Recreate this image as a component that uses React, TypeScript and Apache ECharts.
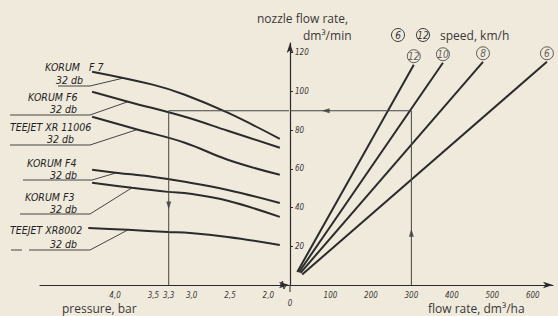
import React, { useEffect, useRef } from "react";
import * as echarts from "echarts";

// ---- data ----
const pressureTicks = [2.0, 2.5, 3.0, 3.3, 3.5, 4.0];
const flowRateTicks = [0, 100, 200, 300, 400, 500, 600];
const nozzleFlowTicks = [20, 40, 60, 80, 100, 120];

// nozzle characteristics: [pressure bar, nozzle flow dm3/min (32 nozzles)]
const korumF7 = [[4.3, 110.2], [3.51, 103.5], [3.09, 98.3], [2.53, 89.0], [1.85, 75.5]];
const korumF6 = [[4.3, 99.8], [3.83, 94.7], [3.09, 86.9], [2.53, 79.7], [1.85, 70.9]];
const teejetXR11006 = [[4.3, 86.9], [3.7, 80.2], [3.09, 73.5], [2.53, 64.7], [1.85, 56.9]];
const korumF4 = [[4.3, 59.5], [3.96, 57.9], [3.52, 55.9], [3.09, 53.3], [2.53, 49.1], [1.85, 42.4]];
const korumF3 = [[4.3, 52.8], [3.78, 50.2], [3.31, 48.1], [3.02, 47.1], [2.53, 43.5], [1.85, 35.2]];
const teejetXR8002 = [[4.35, 29.5], [3.83, 28.5], [3.31, 27.4], [3.02, 26.9], [2.53, 24.8], [1.85, 20.7]];

const nozzleNames = ["KORUM   F 7", "KORUM F6", "TEEJET XR 11006", "KORUM F4", "KORUM F3", "TEEJET XR8002"];
const nozzleCurves = [korumF7, korumF6, teejetXR11006, korumF4, korumF3, teejetXR8002];
const nozzleCount = "32 db";

// speed lines: [flow rate dm3/ha, nozzle flow dm3/min]
const speeds = [12, 10, 8, 6];
const speedStart = [[18, 6.7], [22, 6.6], [26, 6.3], [30, 5.4]];
const speedEnd = [[306, 113.8], [378, 114.8], [477, 115.3], [635, 115.3]];
const legendSpeeds = [6, 12];

// worked example
const examplePressure = 3.3;
const exampleNozzleFlow = 90;
const exampleFlowRate = 300;

// ---- layout (pixels) ----
const INK = "#2b2b2b";
const TXT = "#383838";
const BG = "#f0eadc";
const AXIS_Y = 285;
const TOP = 43;
const labelFont = "'Liberation Sans Narrow', 'DejaVu Sans Condensed', sans-serif";
const titleFont = "'Open Sans', sans-serif";

// label layout per nozzle: name pos, count pos, underline, leader pressure
const labelLayout = [
  { nx: 45, ny: 67, cx: 56, cy: 80, u1: 58, u2: 90, uy: 86, lp: 3.9 },
  { nx: 28, ny: 97, cx: 50, cy: 109, u1: 10, u2: 90, uy: 115, lp: 3.83 },
  { nx: 10, ny: 127, cx: 47, cy: 139, u1: 10, u2: 90, uy: 145, lp: 3.71 },
  { nx: 27, ny: 163, cx: 50, cy: 175, u1: 23, u2: 92, uy: 180, lp: 3.98 },
  { nx: 25, ny: 197, cx: 50, cy: 209, u1: 20, u2: 90, uy: 214, lp: 3.78 },
  { nx: 10, ny: 230, cx: 50, cy: 244, u1: 29, u2: 90, uy: 250, lp: 3.83 },
];

function interp(curve: number[][], p: number): number {
  for (let i = 0; i < curve.length - 1; i++) {
    const a = curve[i], b = curve[i + 1];
    if ((p <= a[0] && p >= b[0]) || (p >= a[0] && p <= b[0])) {
      const t = (p - a[0]) / (b[0] - a[0]);
      return a[1] + t * (b[1] - a[1]);
    }
  }
  return curve[0][1];
}

export default function App() {
  const ref = useRef<HTMLDivElement>(null);
  useEffect(() => {
    if (!ref.current) return;
    const chart = echarts.init(ref.current, undefined, { renderer: "svg" });

    const axisLabelBase = {
      color: TXT,
      fontSize: 8,
      fontStyle: "italic" as const,
      fontFamily: labelFont,
    };

    const nozzleSeries = nozzleCurves.map((c, i) => ({
      type: "line",
      name: nozzleNames[i],
      xAxisIndex: 0,
      yAxisIndex: 0,
      data: c,
      smooth: 0.4,
      symbol: "none",
      lineStyle: { color: INK, width: 2 },
      silent: true,
    }));

    const speedSeries = speeds.map((s, i) => ({
      type: "line",
      name: String(s),
      xAxisIndex: 1,
      yAxisIndex: 1,
      symbol: "none",
      lineStyle: { color: INK, width: 2 },
      data: [speedStart[i], speedEnd[i]],
      silent: true,
    }));

    const speedLabels = {
      type: "scatter",
      xAxisIndex: 1,
      yAxisIndex: 1,
      symbolSize: 1,
      itemStyle: { color: "rgba(0,0,0,0)" },
      silent: true,
      data: speeds.map((s, i) => ({ value: speedEnd[i], name: String(s) })),
      label: {
        show: true,
        position: "top",
        distance: 8,
        formatter: "{b}",
        color: TXT,
        fontSize: 10,
        fontStyle: "italic",
        fontFamily: labelFont,
        width: 13,
        height: 13,
        lineHeight: 13,
        align: "center",
        verticalAlign: "middle",
        borderColor: TXT,
        borderWidth: 1,
        borderRadius: 7,
        padding: [0, 0, 0, 0],
      },
    };

    const guideStyle = { color: "#444", width: 1 };
    const guideLeft = {
      type: "line",
      xAxisIndex: 0,
      yAxisIndex: 0,
      symbol: "none",
      lineStyle: guideStyle,
      data: [[1.73, exampleNozzleFlow], [examplePressure, exampleNozzleFlow], [examplePressure, 0]],
      silent: true,
    };
    const guideRight = {
      type: "line",
      xAxisIndex: 1,
      yAxisIndex: 1,
      symbol: "none",
      lineStyle: guideStyle,
      data: [[0, exampleNozzleFlow], [exampleFlowRate, exampleNozzleFlow], [exampleFlowRate, 0]],
      silent: true,
    };
    const arrowsLeft = {
      type: "scatter",
      xAxisIndex: 0,
      yAxisIndex: 0,
      symbol: "triangle",
      symbolSize: [5, 8],
      itemStyle: { color: "#333" },
      data: [{ value: [examplePressure, 41], symbolRotate: 180 }],
      silent: true,
    };
    const arrowsRight = {
      type: "scatter",
      xAxisIndex: 1,
      yAxisIndex: 1,
      symbol: "triangle",
      symbolSize: [5, 8],
      itemStyle: { color: "#333" },
      data: [
        { value: [88, exampleNozzleFlow], symbolRotate: 90 },
        { value: [exampleFlowRate, 27], symbolRotate: 0 },
      ],
      silent: true,
    };

    const axisLine = (sym: string[]) => ({
      show: true,
      lineStyle: { color: INK, width: 1.2 },
      symbol: sym,
      symbolSize: [5, 10],
    });

    const option: any = {
      animation: false,
      backgroundColor: BG,
      grid: [
        { left: 40, top: TOP, width: 249, bottom: 316 - AXIS_Y },
        { left: 290, top: TOP, width: 263, bottom: 316 - AXIS_Y },
      ],
      xAxis: [
        {
          type: "value",
          gridIndex: 0,
          inverse: true,
          min: 1.73,
          max: 4.98,
          axisLine: axisLine(["none", "arrow"]),
          axisTick: { show: false },
          splitLine: { show: false },
          axisLabel: {
            ...axisLabelBase,
            margin: 6,
            customValues: pressureTicks,
            formatter: (v: number) => v.toFixed(1).replace(".", ","),
          },
        },
        {
          type: "value",
          gridIndex: 1,
          min: 0,
          max: 650,
          axisLine: axisLine(["none", "arrow"]),
          axisTick: { show: false },
          splitLine: { show: false },
          axisLabel: {
            ...axisLabelBase,
            margin: 6,
            customValues: flowRateTicks,
            formatter: (v: number) => (v === 0 ? "{z|0}" : String(v)),
            rich: { z: { ...axisLabelBase, padding: [8, 0, 0, 0] } },
          },
        },
      ],
      yAxis: [
        { type: "value", gridIndex: 0, min: 0, max: 125, show: false },
        {
          type: "value",
          gridIndex: 1,
          min: 0,
          max: 125,
          position: "left",
          axisLine: axisLine(["none", "arrow"]),
          axisTick: { show: true, inside: true, length: 3, customValues: nozzleFlowTicks, lineStyle: { color: INK } },
          splitLine: { show: false },
          axisLabel: { ...axisLabelBase, inside: true, margin: 5, customValues: nozzleFlowTicks },
        },
      ],
      series: [...nozzleSeries, ...speedSeries, speedLabels, guideLeft, guideRight, arrowsLeft, arrowsRight],
    };
    chart.setOption(option);

    // annotations
    const txt = (text: string, x: number, y: number, extra: any = {}) => ({
      type: "text",
      x,
      y,
      silent: true,
      style: {
        text,
        fill: TXT,
        fontSize: 12,
        fontFamily: titleFont,
        align: "left",
        verticalAlign: "middle",
        ...extra,
      },
    });
    const graphics: any[] = [];
    graphics.push(txt("nozzle flow rate,", 257, 18));
    graphics.push(txt("dm³/min", 303, 35));
    graphics.push(txt("speed, km/h", 440, 35));
    graphics.push(txt("pressure, bar", 62, 308));
    graphics.push(txt("flow rate, dm³/ha", 428, 308));
    const legendX = [398, 423];
    legendSpeeds.forEach((s, i) => {
      graphics.push({
        type: "circle",
        silent: true,
        shape: { cx: legendX[i], cy: 35, r: 6.5 },
        style: { fill: "none", stroke: TXT, lineWidth: 1 },
      });
      graphics.push(
        txt(String(s), legendX[i], 35.5, { align: "center", fontSize: 10, fontStyle: "italic", fontFamily: labelFont })
      );
    });

    labelLayout.forEach((L, i) => {
      graphics.push(
        txt(nozzleNames[i], L.nx, L.ny, { fontSize: 10.5, fontStyle: "italic", fontFamily: labelFont, fill: "#222" })
      );
      graphics.push(
        txt(nozzleCount, L.cx, L.cy, { fontSize: 10.5, fontStyle: "italic", fontFamily: labelFont, fill: "#222" })
      );
      const q = interp(nozzleCurves[i], L.lp);
      const pt = chart.convertToPixel({ xAxisIndex: 0, yAxisIndex: 0 }, [L.lp, q]) as number[];
      graphics.push({
        type: "polyline",
        silent: true,
        shape: { points: [[L.u1, L.uy], [L.u2, L.uy], [pt[0], pt[1]]] },
        style: { stroke: "#444", lineWidth: 1, fill: "none" },
      });
    });
    // small dash before the last underline
    graphics.push({
      type: "line",
      silent: true,
      shape: { x1: 11, y1: 250, x2: 22, y2: 250 },
      style: { stroke: "#444", lineWidth: 1 },
    });
    // axis break mark and origin tick
    graphics.push({
      type: "polyline",
      silent: true,
      shape: { points: [[280, 286], [282.5, 281], [284, 289], [286.5, 284]] },
      style: { stroke: INK, lineWidth: 1, fill: "none" },
    });
    graphics.push({
      type: "line",
      silent: true,
      shape: { x1: 290, y1: 285, x2: 290, y2: 292 },
      style: { stroke: INK, lineWidth: 1 },
    });

    chart.setOption({ graphic: graphics });

    return () => chart.dispose();
  }, []);

  return (
    <div
      ref={ref}
      style={{ position: "fixed", left: 0, top: 0, width: 558, height: 316, background: BG }}
    />
  );
}
